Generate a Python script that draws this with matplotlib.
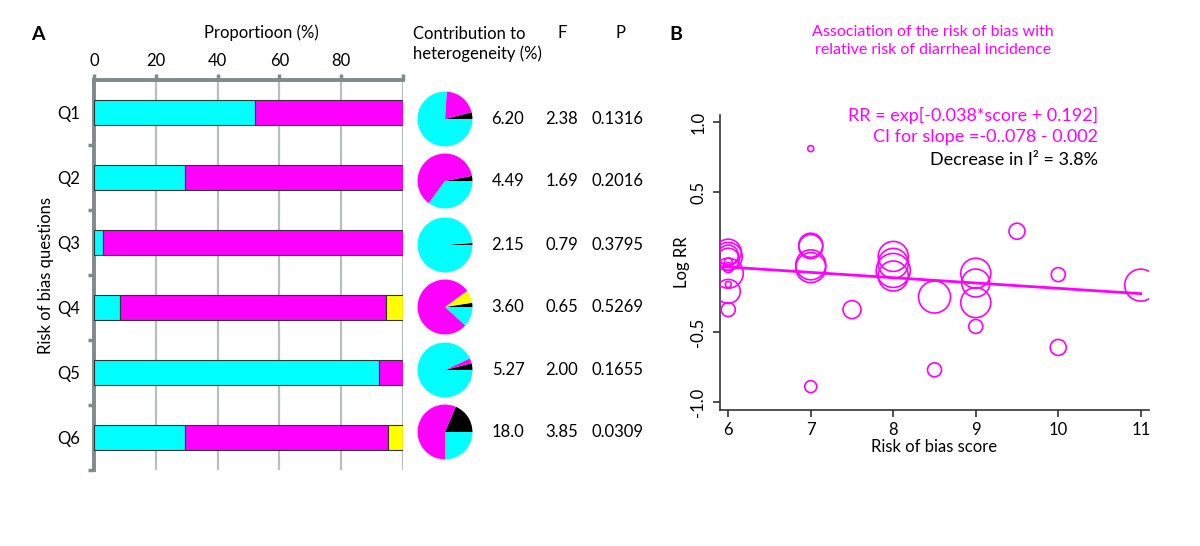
import matplotlib
matplotlib.use("Agg")
import matplotlib.pyplot as plt
import numpy as np

plt.rcParams['font.family'] = ['Lato', 'DejaVu Sans']

# ---- data: panel A ----
questions = ['Q1', 'Q2', 'Q3', 'Q4', 'Q5', 'Q6']
low_risk = [52, 29.5, 3, 8.5, 92.3, 29.5]
high_risk = [48, 70.5, 97, 86, 7.7, 65.5]
unclear = [0, 0, 0, 5.5, 0, 5]

# pie shares, counter-clockwise from 3 o'clock: black, yellow, magenta, cyan
pie_black = [4, 3, 1.2, 2.5, 4, 18.6]
pie_yellow = [0, 0, 0, 7.5, 0, 0]
pie_magenta = [20, 62, 0, 78.3, 3, 56.4]
pie_cyan = [76, 35, 98.8, 11.7, 93, 25]

contribution = ['6.20', '4.49', '2.15', '3.60', '5.27', '18.0']
f_values = ['2.38', '1.69', '0.79', '0.65', '2.00', '3.85']
p_values = ['0.1316', '0.2016', '0.3795', '0.5269', '0.1655', '0.0309']

# ---- data: panel B ----
score = [6, 6, 6, 6, 6, 6, 6, 6, 6, 6,
         7, 7, 7, 7, 7, 7, 7.5,
         8, 8, 8, 8, 8.5, 8.5,
         9, 9, 9, 9, 9.5, 10, 10, 11]
log_rr = [0.07, 0.04, 0.02, -0.08, -0.21, -0.34, -0.16, 0.0, -0.04, 0.05,
          0.11, 0.12, -0.02, -0.04, 0.81, -0.89, -0.34,
          0.04, -0.01, -0.06, -0.10, -0.25, -0.77,
          -0.08, -0.15, -0.29, -0.46, 0.22, -0.09, -0.61, -0.165]
weight = [13, 14, 11, 15, 12, 7, 3, 4, 5, 10,
          12, 12, 15, 15, 3, 6, 9,
          15, 15, 17, 15, 16, 7,
          15, 14, 15, 7, 8, 7, 8, 16]
slope, intercept = -0.038, 0.192

CYAN, MAGENTA, YELLOW = '#00FFFF', '#FF00FF', '#FFFF00'
GRAYAX = '#7f8b8b'

W, H = 1200, 546
fig = plt.figure(figsize=(12, 5.46), dpi=100)


def fx(px):
    return px / W


def fy(py):
    return 1 - py / H


# ---- panel A: stacked bars ----
ax = fig.add_axes([fx(94), fy(470), fx(403) - fx(94), fy(80) - fy(470)])
ypos = np.arange(len(questions))
ax.barh(ypos, low_risk, height=0.38, color=CYAN, edgecolor='#333333', lw=0.8, zorder=3)
ax.barh(ypos, high_risk, left=low_risk, height=0.38, color=MAGENTA,
        edgecolor='#333333', lw=0.8, zorder=3)
ax.barh(ypos, unclear, left=np.add(low_risk, high_risk), height=0.38, color=YELLOW,
        edgecolor='#333333', lw=0.8, zorder=3)
ax.set_xlim(0, 100)
ax.set_ylim(5.5, -0.5)
for g in [20, 40, 60, 80, 100]:
    ax.axvline(g, color='#b8bfbf', lw=1.6, zorder=0)
ax.xaxis.tick_top()
ax.set_xticks([0, 20, 40, 60, 80, 100])
ax.set_xticklabels(['0', '20', '40', '60', '80', ''])
ax.tick_params(axis='x', length=4, width=2.5, color=GRAYAX, labelsize=12, pad=4)
ax.set_yticks(ypos)
ax.set_yticklabels(questions)
ax.set_yticks(np.arange(0.5, 6, 1), minor=True)
ax.tick_params(axis='y', which='major', length=0, labelsize=12, pad=10)
ax.tick_params(axis='y', which='minor', length=4, width=2.5, color=GRAYAX)
for s in ['right', 'bottom']:
    ax.spines[s].set_visible(False)
for s in ['top', 'left']:
    ax.spines[s].set_color(GRAYAX)
    ax.spines[s].set_linewidth(2.8)
ax.set_ylabel('Risk of bias questions', fontsize=12, labelpad=2)

fig.text(fx(38), fy(35), 'A', fontsize=14, fontweight='bold', ha='center', va='center')
fig.text(fx(261), fy(33), 'Proportioon (%)', fontsize=12, ha='center', va='center')
fig.text(fx(413), fy(44), 'Contribution to\nheterogeneity (%)', fontsize=12,
         ha='left', va='center', linespacing=1.3)
fig.text(fx(562), fy(33), 'F', fontsize=12, ha='center', va='center')
fig.text(fx(620), fy(33), 'P', fontsize=12, ha='center', va='center')

# ---- pies and statistics ----
row_y = [119, 181, 245, 307, 370, 432]
for i in range(len(questions)):
    pax = fig.add_axes([fx(417), fy(row_y[i] + 28), fx(56), 56 / H])
    vals = [pie_black[i], pie_yellow[i], pie_magenta[i], pie_cyan[i]]
    pax.pie(vals, colors=['black', YELLOW, MAGENTA, CYAN], startangle=0,
            counterclock=True, wedgeprops=dict(linewidth=0))
    pax.set_xlim(-1.02, 1.02)
    pax.set_ylim(-1.02, 1.02)
    fig.text(fx(508), fy(row_y[i]), contribution[i], fontsize=12, ha='center', va='center')
    fig.text(fx(562), fy(row_y[i]), f_values[i], fontsize=12, ha='center', va='center')
    fig.text(fx(618), fy(row_y[i]), p_values[i], fontsize=12, ha='center', va='center')

# ---- panel B: meta-regression bubble plot ----
bx = fig.add_axes([fx(720), fy(410), fx(1149) - fx(720), fy(115) - fy(410)])
sizes = (np.array(weight) * 2 * 0.72) ** 2
bx.scatter(score, log_rr, s=sizes, facecolors='none', edgecolors=MAGENTA, linewidths=1.2,
           zorder=3)
xl = np.array([5.9, 11])
bx.plot(xl, intercept + slope * xl, color=MAGENTA, lw=2, zorder=2)
bx.set_xlim(5.9, 11.1)
bx.set_ylim(-1.057, 1.05)
bx.set_xticks([6, 7, 8, 9, 10, 11])
bx.set_yticks([-1.0, -0.5, 0.5, 1.0])
bx.set_yticklabels(['-1.0', '-0.5', '0.5', '1.0'], rotation=90, va='center')
bx.tick_params(axis='both', length=5, width=1.2, color='#333333', labelsize=12)
bx.tick_params(axis='y', pad=5)
for s in ['right', 'top']:
    bx.spines[s].set_visible(False)
for s in ['left', 'bottom']:
    bx.spines[s].set_color('#333333')
    bx.spines[s].set_linewidth(1.2)
bx.set_xlabel('Risk of bias score', fontsize=12, labelpad=1)
bx.set_ylabel('Log RR', fontsize=12, labelpad=0)

fig.text(fx(676), fy(35), 'B', fontsize=14, fontweight='bold', ha='center', va='center')
fig.text(fx(933), fy(41), 'Association of the risk of bias with\nrelative risk of diarrheal incidence',
         fontsize=11.5, color=MAGENTA, ha='center', va='center', linespacing=1.4)
fig.text(fx(1098), fy(115), 'RR = exp[-0.038*score + 0.192]', fontsize=13, color=MAGENTA,
         ha='right', va='center')
fig.text(fx(1098), fy(137), 'CI for slope =-0..078 - 0.002', fontsize=13, color=MAGENTA,
         ha='right', va='center')
fig.text(fx(1098), fy(160), 'Decrease in I\u00b2 = 3.8%', fontsize=13, color='black',
         ha='right', va='center')

fig.savefig('out.png', dpi=100)
